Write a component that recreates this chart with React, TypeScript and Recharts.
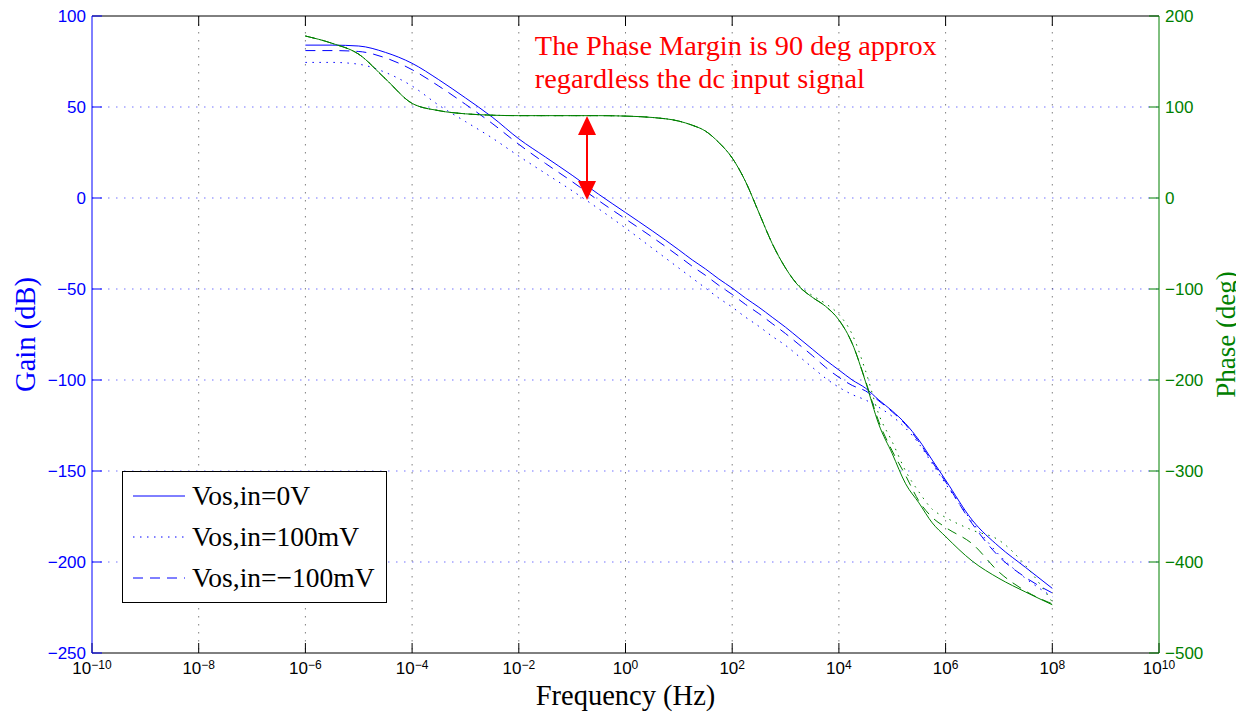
import React from 'react'
import {
  CartesianGrid,
  Legend,
  Line,
  LineChart,
  ReferenceDot,
  ReferenceLine,
  XAxis,
  YAxis,
} from 'recharts'

// frequency points (Hz), half decades at the ends, quarter decades in the middle
const freqHz = [
  1e-6, 3.16e-6, 1e-5, 3.16e-5, 1e-4, 3.16e-4, 1e-3, 3.16e-3, 0.01, 0.0316, 0.1, 0.316, 1, 3.16, 10,
  17.8, 31.6, 56.2, 100, 178, 316, 562, 1e3, 1.78e3, 3.16e3, 5.62e3, 1e4, 1.78e4, 3.16e4, 5.62e4,
  1e5, 1.78e5, 3.16e5, 5.62e5, 1e6, 3.16e6, 1e7, 3.16e7, 1e8,
]

// gain in dB
const gainVos0 = [
  84, 84, 83.5, 80, 74, 65, 55, 44.5, 32.5, 22.5, 12.5, 2, -8, -18, -28.5,
  -34, -39, -44.5, -49.5, -55, -60, -65.5, -71, -77, -83, -89, -94.5, -100, -104.5, -111,
  -117, -124, -133, -144, -155, -177, -191.5, -203, -214.5,
]
const gainVosP100 = [
  74.5, 74.5, 73.5, 69, 61.5, 51, 42, 33, 23, 13.5, 4, -6, -16.5, -27.5, -38.5,
  -44, -49.5, -55, -60, -65.5, -70.5, -76, -81, -87, -93, -99, -104, -108, -111, -115,
  -120, -126.5, -135, -146, -157, -178, -196, -209, -219,
]
const gainVosM100 = [
  81, 81, 80.5, 77, 70.5, 61.5, 51.5, 41, 29.5, 19, 9, -1.5, -11.5, -21.5, -32,
  -37.5, -42.5, -48, -53, -58.5, -63.5, -69, -74.5, -80.5, -86.5, -93, -98.5, -103, -106, -111.5,
  -117.5, -124.5, -134, -145, -156, -179, -197, -208.5, -217,
]

// phase in deg
const phaseVos0 = [
  178, 170, 158, 131, 104, 96, 92.5, 91, 90.5, 90.5, 90.5, 90.5, 90, 88.5, 84.5,
  80, 73.5, 61, 44, 18, -16, -50, -77, -97, -109, -119, -134, -160, -202, -249,
  -281, -314, -335, -357, -372, -399, -418, -433, -447,
]
const phaseVosP100 = [
  178, 170, 158, 131, 104, 96, 92.5, 91, 90.5, 90.5, 90.5, 90.5, 90, 88.5, 84.5,
  80, 73.5, 61, 44, 18, -16, -50, -77, -96, -107, -116, -128, -150, -190, -238,
  -268, -300, -323, -342, -351, -365, -376, -404, -444,
]
const phaseVosM100 = [
  178, 170, 158, 131, 104, 96, 92.5, 91, 90.5, 90.5, 90.5, 90.5, 90, 88.5, 84.5,
  80, 73.5, 61, 44, 18, -16, -50, -77, -97, -109, -119, -134, -160, -201, -246,
  -278, -305, -333, -351, -362, -380, -411, -432, -446,
]

const freqTicks = [1e-10, 1e-8, 1e-6, 1e-4, 1e-2, 1, 1e2, 1e4, 1e6, 1e8, 1e10]
const freqGrid = [1e-8, 1e-6, 1e-4, 1e-2, 1, 1e2, 1e4, 1e6, 1e8]
const gainTicks = [-250, -200, -150, -100, -50, 0, 50, 100]
const gainGrid = [-200, -150, -100, -50, 0, 50]
const phaseTicks = [-500, -400, -300, -200, -100, 0, 100, 200]

const seriesNames = {
  gain0: 'Vos,in=0V',
  gainP100: 'Vos,in=100mV',
  gainM100: 'Vos,in=\u2212100mV',
}

const data = freqHz.map((f, i) => ({
  f,
  gain0: gainVos0[i],
  gainP100: gainVosP100[i],
  gainM100: gainVosM100[i],
  phase0: phaseVos0[i],
  phaseP100: phaseVosP100[i],
  phaseM100: phaseVosM100[i],
}))

const BLUE = '#0000ff'
const GREEN = '#008000'
const DOTTED = '1.5 5.5'
const DASHED = '10 7'
const SANS = '"Liberation Sans", Arial, sans-serif'
const SERIF = '"Liberation Serif", "Times New Roman", serif'
// top box ticks: from the upper gain limit down by this many dB (about 10px)
const TOP_TICK_DB = 5.5

const legendDash: Record<string, string | undefined> = {
  gain0: undefined,
  gainP100: DOTTED,
  gainM100: DASHED,
}

const minus = (v: number) => String(v).replace('-', '\u2212')

const FreqTick = ({ x, y, payload }: any) => {
  const exp = Math.round(Math.log10(payload.value))
  return (
    <text x={x} y={y + 21} textAnchor="middle" fontFamily={SANS} fontSize={17} fill="#000">
      <tspan>10</tspan>
      <tspan fontSize={12} dy={-5}>
        {minus(exp)}
      </tspan>
    </text>
  )
}

const LegendBox = ({ payload }: any) => (
  <div
    style={{
      width: 265,
      height: 132,
      boxSizing: 'border-box',
      border: '1.5px solid #000',
      background: '#fff',
      paddingTop: 3,
    }}
  >
    {(payload ?? [])
      .filter((p: any) => p.dataKey in legendDash)
      .map((p: any) => (
        <div key={p.dataKey} style={{ display: 'flex', alignItems: 'center', height: 41 }}>
          <svg width={69} height={10} style={{ flex: 'none' }}>
            <line x1={10} x2={62} y1={5} y2={5} stroke={p.color} strokeDasharray={legendDash[p.dataKey]} />
          </svg>
          <span
            style={{
              fontFamily: SERIF,
              fontSize: 27.5,
              color: '#000',
              lineHeight: '41px',
              whiteSpace: 'nowrap',
            }}
          >
            {p.value}
          </span>
        </div>
      ))}
  </div>
)

const MarginArrow = ({ x1, y1, x2, y2 }: any) => {
  const x = (x1 + x2) / 2
  const top = Math.min(y1, y2)
  const bottom = Math.max(y1, y2)
  return (
    <g>
      <line x1={x} x2={x} y1={top + 15} y2={bottom - 15} stroke="#ff0000" strokeWidth={2} />
      <polygon points={`${x},${top} ${x - 9},${top + 19} ${x + 9},${top + 19}`} fill="#ff0000" />
      <polygon points={`${x},${bottom + 2} ${x - 9},${bottom - 17} ${x + 9},${bottom - 17}`} fill="#ff0000" />
    </g>
  )
}

const NoteText = ({ cx, cy }: any) => (
  <text x={cx} y={cy} fontFamily={SERIF} fontSize={28.3} fill="#ff0000">
    <tspan x={cx}>The Phase Margin is 90 deg approx</tspan>
    <tspan x={cx} dy={33}>
      regardless the dc input signal
    </tspan>
  </text>
)

export default function App() {
  return (
    <LineChart width={1236} height={704} data={data} margin={{ top: 7, right: 0, bottom: 0, left: 0 }}>
      <CartesianGrid
        yAxisId="gain"
        vertical={false}
        horizontalValues={gainGrid}
        stroke={BLUE}
        strokeOpacity={0.55}
        strokeDasharray="1.5 6.5"
      />
      <CartesianGrid
        horizontal={false}
        verticalValues={freqGrid}
        stroke="#000"
        strokeOpacity={0.5}
        strokeDasharray="1.5 6.5"
      />
      <XAxis
        dataKey="f"
        type="number"
        scale="log"
        domain={[1e-10, 1e10]}
        ticks={freqTicks}
        interval={0}
        allowDataOverflow
        height={59}
        stroke="#000"
        tickSize={-10}
        tickMargin={10}
        tick={<FreqTick />}
        label={{
          content: ({ viewBox }: any) => (
            <text
              x={viewBox.x + viewBox.width / 2}
              y={viewBox.y + 52}
              textAnchor="middle"
              fontFamily={SERIF}
              fontSize={28.5}
              fill="#000"
            >
              Frequency (Hz)
            </text>
          ),
        }}
      />
      <XAxis
        xAxisId="top"
        orientation="top"
        dataKey="f"
        type="number"
        scale="log"
        domain={[1e-10, 1e10]}
        ticks={freqTicks}
        allowDataOverflow
        height={1}
        stroke="#000"
        tickLine={false}
        tick={false}
      />
      <YAxis
        yAxisId="gain"
        type="number"
        domain={[-250, 100]}
        ticks={gainTicks}
        interval={0}
        allowDataOverflow
        width={84}
        stroke={BLUE}
        tickSize={-10}
        tickMargin={16}
        tickFormatter={minus}
        tick={{ fill: BLUE, fontSize: 17, fontFamily: SANS }}
        label={{
          content: ({ viewBox }: any) => {
            const cx = viewBox.x + 17
            const cy = viewBox.y + viewBox.height / 2
            return (
              <text
                x={cx}
                y={cy}
                transform={`rotate(-90 ${cx} ${cy})`}
                textAnchor="middle"
                dominantBaseline="central"
                fontFamily={SERIF}
                fontSize={28.5}
                fill={BLUE}
              >
                Gain (dB)
              </text>
            )
          },
        }}
      />
      <YAxis
        yAxisId="phase"
        orientation="right"
        type="number"
        domain={[-500, 200]}
        ticks={phaseTicks}
        interval={0}
        allowDataOverflow
        width={85}
        stroke={GREEN}
        tickSize={-10}
        tickMargin={16}
        tickFormatter={minus}
        tick={{ fill: GREEN, fontSize: 17, fontFamily: SANS }}
        label={{
          content: ({ viewBox }: any) => {
            const cx = viewBox.x + 67
            const cy = viewBox.y + viewBox.height / 2
            return (
              <text
                x={cx}
                y={cy}
                transform={`rotate(-90 ${cx} ${cy})`}
                textAnchor="middle"
                dominantBaseline="central"
                fontFamily={SERIF}
                fontSize={27}
                fill={GREEN}
              >
                Phase (deg)
              </text>
            )
          },
        }}
      />

      {/* tick marks along the top edge of the box */}
      {freqGrid.map((t) => (
        <ReferenceLine
          key={`top-${t}`}
          yAxisId="gain"
          segment={[
            { x: t, y: 100 },
            { x: t, y: 100 - TOP_TICK_DB },
          ]}
          stroke="#000"
          strokeWidth={1}
        />
      ))}

      <Line yAxisId="gain" dataKey="gain0" name={seriesNames.gain0} type="monotone" stroke={BLUE} strokeWidth={1} dot={false} isAnimationActive={false} />
      <Line yAxisId="gain" dataKey="gainP100" name={seriesNames.gainP100} type="monotone" stroke={BLUE} strokeWidth={1} strokeDasharray={DOTTED} dot={false} isAnimationActive={false} />
      <Line yAxisId="gain" dataKey="gainM100" name={seriesNames.gainM100} type="monotone" stroke={BLUE} strokeWidth={1} strokeDasharray={DASHED} dot={false} isAnimationActive={false} />
      <Line yAxisId="phase" dataKey="phase0" type="monotone" stroke={GREEN} strokeWidth={1} dot={false} legendType="none" isAnimationActive={false} />
      <Line yAxisId="phase" dataKey="phaseP100" type="monotone" stroke={GREEN} strokeWidth={1} strokeDasharray={DOTTED} dot={false} legendType="none" isAnimationActive={false} />
      <Line yAxisId="phase" dataKey="phaseM100" type="monotone" stroke={GREEN} strokeWidth={1} strokeDasharray={DASHED} dot={false} legendType="none" isAnimationActive={false} />

      <ReferenceLine
        yAxisId="phase"
        segment={[
          { x: 0.19, y: 0 },
          { x: 0.19, y: 90 },
        ]}
        shape={<MarginArrow />}
      />
      <ReferenceDot yAxisId="gain" x={0.02} y={78.5} r={0} shape={<NoteText />} />

      <Legend
        layout="vertical"
        align="center"
        verticalAlign="middle"
        wrapperStyle={{ left: 114, top: 463, width: 265, height: 132 }}
        content={<LegendBox />}
      />
    </LineChart>
  )
}
